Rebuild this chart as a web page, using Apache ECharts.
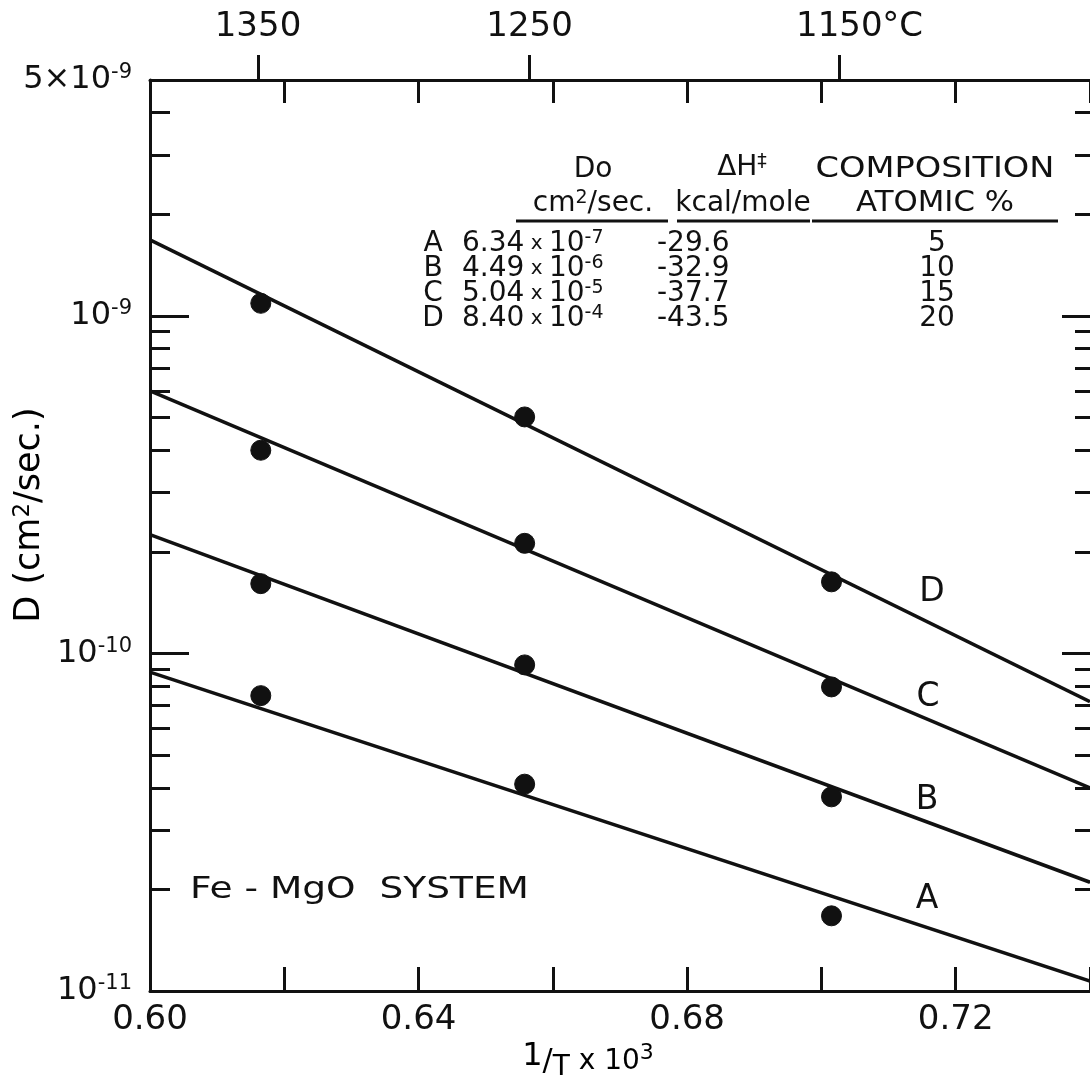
<!DOCTYPE html>
<html>
<head>
<meta charset="utf-8">
<script src="https://cdn.jsdelivr.net/npm/echarts@6/dist/echarts.min.js"></script>
<style>
  html, body { margin: 0; padding: 0; background: #ffffff; }
  #main { width: 1090px; height: 1091px; }
</style>
</head>
<body>
<div id="main"></div>
<script>
// Measured diffusion coefficients at three temperatures (x = 1/T x 10^3)
const pointX = [0.6165, 0.6558, 0.7015];
const pointsA = [7.5e-11, 4.1e-11, 1.67e-11];
const pointsB = [1.61e-10, 9.25e-11, 3.76e-11];
const pointsC = [4.0e-10, 2.12e-10, 7.96e-11];
const pointsD = [1.09e-9, 5.02e-10, 1.63e-10];

// Fitted Arrhenius lines, end values at the two edges of the plot
const lineX = [0.60, 0.74];
const lineA = [8.8e-11, 1.07e-11];
const lineB = [2.25e-10, 2.1e-11];
const lineC = [6.0e-10, 4.0e-11];
const lineD = [1.68e-9, 7.2e-11];
const curveNames = ['A', 'B', 'C', 'D'];

// Axis ticks and labels
const xLabelValues = [0.60, 0.64, 0.68, 0.72];
const tempCelsius = [1350, 1250, 1150];
const tempLabels = ['1350', '1250', '1150'];
const yLabelValues = [1e-11, 1e-10, 1e-9, 5e-9];
const yLabelMantissa = ['10', '10', '10', '5\u00d710'];
const yLabelExponent = ['-11', '-10', '-9', '-9'];
const yMajorTicks = [1e-10, 1e-9];
const yMinorTicks = [2e-11, 3e-11, 4e-11, 5e-11, 6e-11, 7e-11, 8e-11, 9e-11,
                     2e-10, 3e-10, 4e-10, 5e-10, 6e-10, 7e-10, 8e-10, 9e-10,
                     2e-9, 3e-9, 4e-9];

// Parameter table
const tableLetters = ['A', 'B', 'C', 'D'];
const tableD0 = ['6.34', '4.49', '5.04', '8.40'];
const tableD0Exp = ['-7', '-6', '-5', '-4'];
const tableDH = ['-29.6', '-32.9', '-37.7', '-43.5'];
const tableComp = ['5', '10', '15', '20'];

const FONT = 'DejaVu Sans';
const INK = '#111111';

const tempX = tempCelsius.map(c => 1000 / (c + 273.15));

function pairs(xs, ys) { return xs.map((x, i) => [x, ys[i]]); }

const chart = echarts.init(document.getElementById('main'), null, { renderer: 'canvas' });

const axisLineStyle = { show: true, lineStyle: { color: INK, width: 3 } };
const tickStyle = (len) => ({ show: true, inside: true, length: len, lineStyle: { color: INK, width: 3 } });

const supRich = {
  b: { fontFamily: FONT, fontSize: 32, color: INK },
  s: { fontFamily: FONT, fontSize: 21, color: INK, padding: [0, 0, 14, 0] }
};

const GRID = { left: 150, top: 80, width: 943, height: 911 };

const lineSeries = [lineA, lineB, lineC, lineD].map((ys, i) => ({
  name: 'fit ' + curveNames[i],
  type: 'line',
  xAxisIndex: 0, yAxisIndex: 0,
  data: pairs(lineX, ys),
  showSymbol: false, symbol: 'none',
  lineStyle: { color: INK, width: 3.5 },
  silent: true, z: 3
}));

const pointSeries = [pointsA, pointsB, pointsC, pointsD].map((ys, i) => ({
  name: curveNames[i],
  type: 'scatter',
  xAxisIndex: 0, yAxisIndex: 0,
  data: pairs(pointX, ys),
  symbol: 'circle', symbolSize: 20,
  itemStyle: { color: INK, borderColor: INK, borderWidth: 1, opacity: 1 },
  z: 4
}));

// Table and annotation graphics
const graphics = [];
function addText(x, y, text, size, align, rich, sx) {
  graphics.push({
    type: 'text', x: x, y: y, scaleX: sx || 1, silent: true,
    style: {
      fontFamily: FONT, fill: INK,
      text: text, fontSize: size, align: align || 'left', verticalAlign: 'middle', rich: rich
    }
  });
}
function addRule(x1, x2, y) {
  graphics.push({
    type: 'line', silent: true,
    shape: { x1: x1, y1: y, x2: x2, y2: y },
    style: { stroke: INK, lineWidth: 3 }
  });
}
const tRich = {
  n: { fontFamily: FONT, fontSize: 28, color: INK },
  x: { fontFamily: FONT, fontSize: 20, color: INK },
  s: { fontFamily: FONT, fontSize: 19, color: INK, padding: [0, 0, 12, 0] }
};
addText(593, 170, 'Do', 28, 'center');
addText(593, 204, '{n|cm}{s|2}{n|/sec.}', 28, 'center', tRich);
addRule(516, 668, 221);
addText(742, 168, '{n|\u0394H}{s|\u2021}', 28, 'center', tRich);
addText(743, 204, 'kcal/mole', 28, 'center');
addRule(677, 810, 221);
addText(935, 170, 'COMPOSITION', 28, 'center', null, 1.2);
addText(935, 204, 'ATOMIC %', 28, 'center', null, 1.1);
addRule(812, 1058, 221);
const rowY = [244, 269, 294, 319];
rowY.forEach((y, i) => {
  addText(433, y, tableLetters[i], 28, 'center');
  addText(462, y, '{n|' + tableD0[i] + '}{x| x }{n|10}{s|' + tableD0Exp[i] + '}', 28, 'left', tRich);
  addText(657, y, tableDH[i], 28, 'left');
  addText(937, y, tableComp[i], 28, 'center');
});

// Curve letters
const letterPos = [[927, 899], [927, 800], [928, 697], [932, 592]];
curveNames.forEach((n, i) => addText(letterPos[i][0], letterPos[i][1], n, 33, 'center'));

addText(190, 890, 'Fe - MgO  SYSTEM', 30, 'left', null, 1.25);

// Axis titles
graphics.push({
  type: 'text', x: 30, y: 515, rotation: Math.PI / 2, silent: true,
  style: {
    text: '{n|D (cm}{s|2}{n|/sec.)}', align: 'center', verticalAlign: 'middle',
    rich: {
      n: { fontFamily: FONT, fontSize: 35, color: INK },
      s: { fontFamily: FONT, fontSize: 23, color: INK, padding: [0, 0, 14, 0] }
    }
  }
});
graphics.push({
  type: 'text', x: 588, y: 1062, silent: true,
  style: {
    text: '{a|1}{b|/}{c|T}{d| x 10}{e|3}', align: 'center', verticalAlign: 'middle',
    rich: {
      a: { fontFamily: FONT, fontSize: 32, color: INK, padding: [0, 0, 10, 0] },
      b: { fontFamily: FONT, fontSize: 30, color: INK },
      c: { fontFamily: FONT, fontSize: 28, color: INK, padding: [12, 0, 0, 0] },
      d: { fontFamily: FONT, fontSize: 28, color: INK },
      e: { fontFamily: FONT, fontSize: 22, color: INK, padding: [0, 0, 18, 0] }
    }
  }
});

const option = {
  backgroundColor: '#ffffff',
  animation: false,
  grid: GRID,
  xAxis: [
    {
      type: 'value', position: 'bottom', min: 0.60, max: 0.74, interval: 0.02,
      axisLine: axisLineStyle,
      axisTick: tickStyle(24),
      axisLabel: {
        customValues: xLabelValues, margin: 12,
        fontFamily: FONT, fontSize: 34, color: INK,
        formatter: v => v.toFixed(2)
      },
      splitLine: { show: false }
    },
    {
      type: 'value', position: 'top', min: 0.60, max: 0.74, interval: 0.02,
      axisLine: axisLineStyle,
      axisTick: tickStyle(23),
      axisLabel: { show: false },
      splitLine: { show: false }
    },
    {
      type: 'value', position: 'top', min: 0.60, max: 0.74,
      axisLine: { show: false },
      axisTick: { show: true, inside: false, length: 25, customValues: tempX, lineStyle: { color: INK, width: 3 } },
      axisLabel: {
        customValues: tempX, margin: 36,
        fontFamily: FONT, fontSize: 34, color: INK,
        formatter: v => {
          let k = 0, best = Infinity;
          tempX.forEach((t, i) => { const d = Math.abs(t - v); if (d < best) { best = d; k = i; } });
          return k === tempX.length - 1 ? '{p|}{n|' + tempLabels[k] + '}{u|\u00b0C}' : '{n|' + tempLabels[k] + '}';
        },
        rich: {
          p: { width: 40 },
          n: { fontFamily: FONT, fontSize: 34, color: INK },
          u: { fontFamily: FONT, fontSize: 34, color: INK, width: 40 }
        }
      },
      splitLine: { show: false }
    }
  ],
  yAxis: [
    {
      type: 'log', logBase: 10, position: 'left', min: 1e-11, max: 5e-9,
      axisLine: axisLineStyle,
      axisTick: Object.assign(tickStyle(39), { customValues: yMajorTicks }),
      axisLabel: {
        customValues: yLabelValues, margin: 18,
        formatter: v => {
          let k = 0, best = Infinity;
          yLabelValues.forEach((t, i) => { const d = Math.abs(Math.log10(t) - Math.log10(v)); if (d < best) { best = d; k = i; } });
          return '{b|' + yLabelMantissa[k] + '}{s|' + yLabelExponent[k] + '}';
        },
        rich: supRich
      },
      splitLine: { show: false }, minorTick: { show: false }
    },
    {
      type: 'log', logBase: 10, position: 'left', min: 1e-11, max: 5e-9,
      axisLine: { show: false },
      axisTick: Object.assign(tickStyle(20), { customValues: yMinorTicks }),
      axisLabel: { show: false },
      splitLine: { show: false }
    },
    {
      type: 'log', logBase: 10, position: 'right', min: 1e-11, max: 5e-9,
      axisLine: { show: false },
      axisTick: Object.assign(tickStyle(28), { customValues: yMajorTicks }),
      axisLabel: { show: false },
      splitLine: { show: false }
    },
    {
      type: 'log', logBase: 10, position: 'right', min: 1e-11, max: 5e-9,
      axisLine: { show: false },
      axisTick: Object.assign(tickStyle(15), { customValues: yMinorTicks }),
      axisLabel: { show: false },
      splitLine: { show: false }
    }
  ],
  series: lineSeries.concat(pointSeries),
  graphic: graphics
};

chart.setOption(option);
</script>
</body>
</html>
